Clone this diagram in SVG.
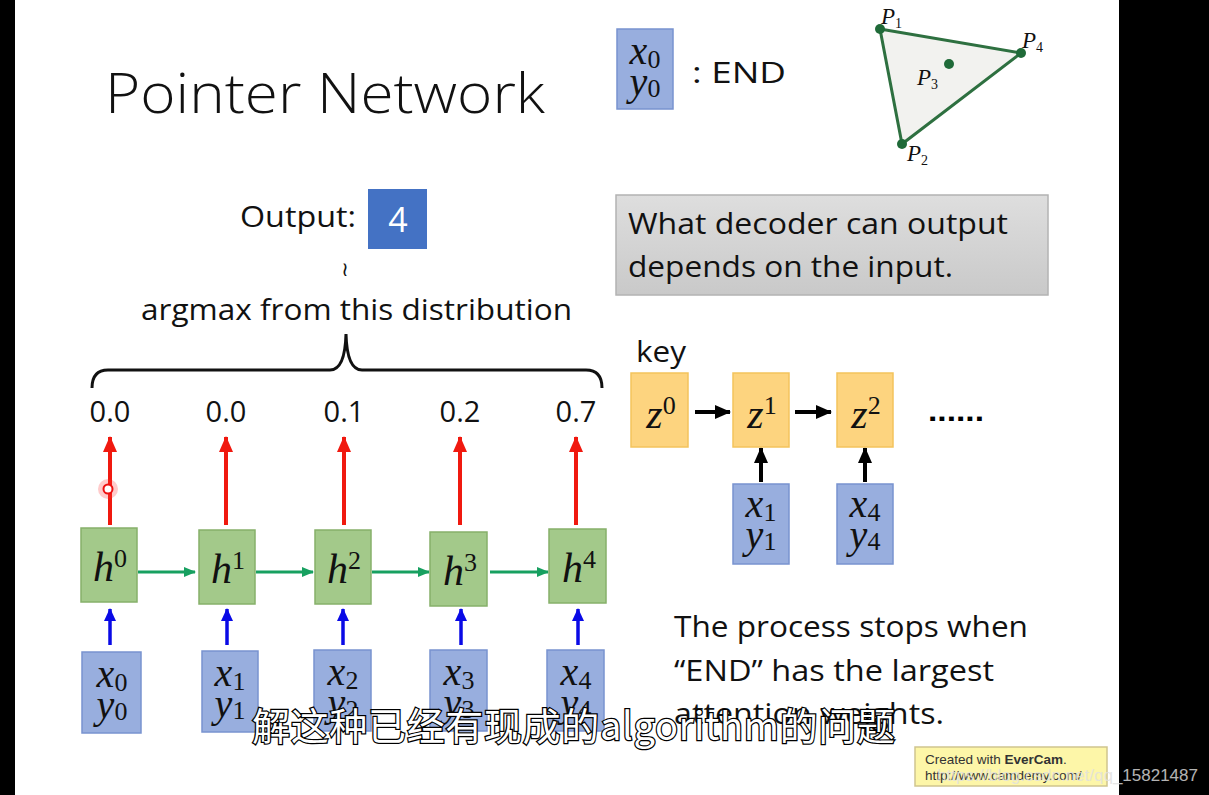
<svg xmlns="http://www.w3.org/2000/svg" width="1209" height="795" viewBox="0 0 1209 795">
<style>
.t{font-family:"Open Sans","Liberation Sans",sans-serif;fill:#111}
.m{font-family:"Liberation Serif","DejaVu Serif",serif;font-style:italic;fill:#111}
.n{font-style:normal}
.hb{fill:#a3c98a;stroke:#86b06a;stroke-width:1.5}
.xb{fill:#98aede;stroke:#7893cf;stroke-width:1.5}
.zb{fill:#fdd47f;stroke:#f3c35c;stroke-width:1.5}
.red{stroke:#f0190f;stroke-width:4;fill:none}
.grn{stroke:#17a060;stroke-width:3;fill:none}
.blu{stroke:#0a0ae6;stroke-width:3.5;fill:none}
.blk{stroke:#000;stroke-width:4;fill:none}
</style>
<defs>
<marker id="mr" markerUnits="userSpaceOnUse" markerWidth="16" markerHeight="16" refX="15" refY="8" orient="auto"><path d="M0,1 L16,8 L0,15 z" fill="#f0190f"/></marker>
<marker id="mg" markerUnits="userSpaceOnUse" markerWidth="12" markerHeight="12" refX="11" refY="6" orient="auto"><path d="M0,1 L12,6 L0,11 z" fill="#17a060"/></marker>
<marker id="mb" markerUnits="userSpaceOnUse" markerWidth="13" markerHeight="14" refX="12" refY="7" orient="auto"><path d="M0,1 L13,7 L0,13 z" fill="#0a0ae6"/></marker>
<marker id="mk" markerUnits="userSpaceOnUse" markerWidth="16" markerHeight="16" refX="15" refY="8" orient="auto"><path d="M0,1 L16,8 L0,15 z" fill="#000"/></marker>
<linearGradient id="gg" x1="0" y1="0" x2="0" y2="1"><stop offset="0" stop-color="#dedede"/><stop offset="1" stop-color="#c9c9c9"/></linearGradient>
</defs>
<rect x="0" y="0" width="1209" height="795" fill="#000"/>
<rect x="15" y="0" width="1104" height="795" fill="#fff"/>

<g id="title"><text class="t" x="105" y="113" font-size="56" font-weight="300" textLength="440" lengthAdjust="spacingAndGlyphs">Pointer Network</text></g>

<g id="end-legend">
<rect class="xb" x="617" y="29" width="56" height="80"/>
<text class="m" x="645" y="64" font-size="40" text-anchor="middle">x<tspan class="n" font-size="26" dy="4">0</tspan></text>
<text class="m" x="645" y="95" font-size="40" text-anchor="middle">y<tspan class="n" font-size="26" dy="2">0</tspan></text>
<text class="t" x="692" y="83" font-size="29" textLength="94" lengthAdjust="spacingAndGlyphs">: END</text>
</g>

<g id="triangle">
<polygon points="880,29 1021,53 902,144" fill="#f2f2ef" stroke="#2e7040" stroke-width="3"/>
<circle cx="880" cy="29" r="5" fill="#1f6a38"/>
<circle cx="1021" cy="53" r="5" fill="#1f6a38"/>
<circle cx="902" cy="144" r="5" fill="#1f6a38"/>
<circle cx="949" cy="64" r="5" fill="#1f6a38"/>
<text class="m" x="881" y="24" font-size="23" fill="#333">P<tspan class="n" font-size="14" dy="4">1</tspan></text>
<text class="m" x="1022" y="48" font-size="23" fill="#333">P<tspan class="n" font-size="14" dy="4">4</tspan></text>
<text class="m" x="917" y="85" font-size="23" fill="#333">P<tspan class="n" font-size="14" dy="4">3</tspan></text>
<text class="m" x="907" y="161" font-size="23" fill="#333">P<tspan class="n" font-size="14" dy="4">2</tspan></text>
</g>

<g id="output">
<text class="t" x="240" y="227" font-size="29" textLength="116" lengthAdjust="spacingAndGlyphs">Output:</text>
<rect x="368" y="189" width="59" height="60" fill="#4472c4"/>
<text x="398" y="232" font-size="34" text-anchor="middle" font-family="Open Sans,Liberation Sans,sans-serif" fill="#fff">4</text>
<text x="345" y="276" font-size="20" text-anchor="middle" font-family="DejaVu Sans,sans-serif" fill="#111">≀</text>
<text class="t" x="141" y="320" font-size="29" textLength="431" lengthAdjust="spacingAndGlyphs">argmax from this distribution</text>
<path d="M92,388 Q92,370 108,370 L330,370 Q345,370 346,334 Q347,370 362,370 L586,370 Q602,370 602,388" fill="none" stroke="#111" stroke-width="3"/>
</g>

<g id="probs" class="t" font-size="29" text-anchor="middle">
<text x="110" y="422">0.0</text>
<text x="226" y="422">0.0</text>
<text x="344" y="422">0.1</text>
<text x="460" y="422">0.2</text>
<text x="576" y="422">0.7</text>
</g>

<g id="connectors">
<line class="red" x1="110" y1="525" x2="110" y2="437" marker-end="url(#mr)"/>
<line class="red" x1="226" y1="525" x2="226" y2="437" marker-end="url(#mr)"/>
<line class="red" x1="344" y1="525" x2="344" y2="437" marker-end="url(#mr)"/>
<line class="red" x1="460" y1="525" x2="460" y2="437" marker-end="url(#mr)"/>
<line class="red" x1="576" y1="525" x2="576" y2="437" marker-end="url(#mr)"/>
<line class="grn" x1="138" y1="572" x2="195" y2="572" marker-end="url(#mg)"/>
<line class="grn" x1="256" y1="572" x2="313" y2="572" marker-end="url(#mg)"/>
<line class="grn" x1="372" y1="572" x2="429" y2="572" marker-end="url(#mg)"/>
<line class="grn" x1="490" y1="572" x2="548" y2="572" marker-end="url(#mg)"/>
<line class="blu" x1="110" y1="645" x2="110" y2="609" marker-end="url(#mb)"/>
<line class="blu" x1="227" y1="645" x2="227" y2="609" marker-end="url(#mb)"/>
<line class="blu" x1="343" y1="645" x2="343" y2="609" marker-end="url(#mb)"/>
<line class="blu" x1="461" y1="645" x2="461" y2="609" marker-end="url(#mb)"/>
<line class="blu" x1="578" y1="645" x2="578" y2="609" marker-end="url(#mb)"/>
<line class="blk" x1="695" y1="412" x2="730" y2="412" marker-end="url(#mk)"/>
<line class="blk" x1="795" y1="412" x2="831" y2="412" marker-end="url(#mk)"/>
<line class="blk" x1="761" y1="482" x2="761" y2="448" marker-end="url(#mk)"/>
<line class="blk" x1="865" y1="482" x2="865" y2="448" marker-end="url(#mk)"/>
</g>

<g id="cursor">
<circle cx="108" cy="489" r="10" fill="#ff3030" opacity="0.25"/>
<circle cx="108" cy="489" r="4.5" fill="#fff" stroke="#ee1010" stroke-width="2"/>
</g>

<g id="h0"><rect class="hb" x="81" y="528" width="56" height="74"/><text class="m" x="110" y="581" font-size="42" text-anchor="middle">h<tspan class="n" font-size="26" dy="-14">0</tspan></text></g>
<g id="h1"><rect class="hb" x="199" y="530" width="56" height="74"/><text class="m" x="228" y="583" font-size="42" text-anchor="middle">h<tspan class="n" font-size="26" dy="-14">1</tspan></text></g>
<g id="h2"><rect class="hb" x="315" y="530" width="56" height="74"/><text class="m" x="344" y="583" font-size="42" text-anchor="middle">h<tspan class="n" font-size="26" dy="-14">2</tspan></text></g>
<g id="h3"><rect class="hb" x="430" y="532" width="57" height="74"/><text class="m" x="460" y="585" font-size="42" text-anchor="middle">h<tspan class="n" font-size="26" dy="-14">3</tspan></text></g>
<g id="h4"><rect class="hb" x="549" y="529" width="57" height="74"/><text class="m" x="579" y="582" font-size="42" text-anchor="middle">h<tspan class="n" font-size="26" dy="-14">4</tspan></text></g>

<g id="x0"><rect class="xb" x="82" y="652" width="59" height="81"/><text class="m" x="112" y="687" font-size="40" text-anchor="middle">x<tspan class="n" font-size="26" dy="4">0</tspan></text><text class="m" x="112" y="718" font-size="40" text-anchor="middle">y<tspan class="n" font-size="26" dy="2">0</tspan></text></g>
<g id="x1"><rect class="xb" x="202" y="651" width="56" height="81"/><text class="m" x="230" y="686" font-size="40" text-anchor="middle">x<tspan class="n" font-size="26" dy="4">1</tspan></text><text class="m" x="230" y="717" font-size="40" text-anchor="middle">y<tspan class="n" font-size="26" dy="2">1</tspan></text></g>
<g id="x2"><rect class="xb" x="314" y="650" width="57" height="81"/><text class="m" x="343" y="685" font-size="40" text-anchor="middle">x<tspan class="n" font-size="26" dy="4">2</tspan></text><text class="m" x="343" y="716" font-size="40" text-anchor="middle">y<tspan class="n" font-size="26" dy="2">2</tspan></text></g>
<g id="x3"><rect class="xb" x="430" y="650" width="57" height="81"/><text class="m" x="459" y="685" font-size="40" text-anchor="middle">x<tspan class="n" font-size="26" dy="4">3</tspan></text><text class="m" x="459" y="716" font-size="40" text-anchor="middle">y<tspan class="n" font-size="26" dy="2">3</tspan></text></g>
<g id="x4"><rect class="xb" x="547" y="650" width="57" height="81"/><text class="m" x="576" y="685" font-size="40" text-anchor="middle">x<tspan class="n" font-size="26" dy="4">4</tspan></text><text class="m" x="576" y="716" font-size="40" text-anchor="middle">y<tspan class="n" font-size="26" dy="2">4</tspan></text></g>

<g id="note-decoder">
<rect x="616" y="195" width="432" height="100" fill="url(#gg)" stroke="#b3b3b3" stroke-width="1.5"/>
<text class="t" x="628" y="234" font-size="29" textLength="380" lengthAdjust="spacingAndGlyphs">What decoder can output</text>
<text class="t" x="628" y="277" font-size="29" textLength="325" lengthAdjust="spacingAndGlyphs">depends on the input.</text>
</g>

<text class="t" x="636" y="362" font-size="29" textLength="50" lengthAdjust="spacingAndGlyphs">key</text>

<g id="z0"><rect class="zb" x="631" y="373" width="57" height="74"/><text class="m" x="661" y="428" font-size="42" text-anchor="middle">z<tspan class="n" font-size="26" dy="-14">0</tspan></text></g>
<g id="z1"><rect class="zb" x="733" y="373" width="56" height="74"/><text class="m" x="762" y="428" font-size="42" text-anchor="middle">z<tspan class="n" font-size="26" dy="-14">1</tspan></text></g>
<g id="z2"><rect class="zb" x="837" y="373" width="56" height="74"/><text class="m" x="866" y="428" font-size="42" text-anchor="middle">z<tspan class="n" font-size="26" dy="-14">2</tspan></text></g>
<text x="928" y="421" font-size="30" font-weight="bold" font-family="Liberation Sans,sans-serif" textLength="56" lengthAdjust="spacingAndGlyphs">......</text>

<g id="kx1"><rect class="xb" x="733" y="484" width="56" height="80"/><text class="m" x="761" y="517" font-size="40" text-anchor="middle">x<tspan class="n" font-size="26" dy="4">1</tspan></text><text class="m" x="761" y="548" font-size="40" text-anchor="middle">y<tspan class="n" font-size="26" dy="2">1</tspan></text></g>
<g id="kx4"><rect class="xb" x="837" y="484" width="56" height="80"/><text class="m" x="865" y="517" font-size="40" text-anchor="middle">x<tspan class="n" font-size="26" dy="4">4</tspan></text><text class="m" x="865" y="548" font-size="40" text-anchor="middle">y<tspan class="n" font-size="26" dy="2">4</tspan></text></g>

<g id="note-stop" class="t" font-size="29">
<text x="674" y="637" textLength="354" lengthAdjust="spacingAndGlyphs">The process stops when</text>
<text x="674" y="681" textLength="320" lengthAdjust="spacingAndGlyphs">“END” has the largest</text>
<text x="674" y="724" textLength="270" lengthAdjust="spacingAndGlyphs">attention weights.</text>
</g>

<g id="subtitle"><text x="252" y="740" font-size="38" font-family="Noto Sans CJK SC,sans-serif" fill="#fff" stroke="#000" stroke-width="2.5" paint-order="stroke" textLength="643" lengthAdjust="spacing">解这种已经有现成的algorithm的问题</text></g>

<g id="evercam">
<rect x="915" y="747" width="192" height="39" fill="#fdf6a8" stroke="#cfc58e" stroke-width="1.5"/>
<text x="925" y="764" font-size="13.5" font-family="Liberation Sans,sans-serif" fill="#333">Created with <tspan font-weight="bold">EverCam</tspan>.</text>
<text x="925" y="780" font-size="13.5" font-family="Liberation Sans,sans-serif" fill="#333">http://www.camdemy.com/</text>
</g>
<text x="1198" y="781" font-size="17" font-family="Liberation Sans,sans-serif" fill="#e0e0e0" opacity="0.8" text-anchor="end">https://blog.csdn.net/qq_15821487</text>
</svg>
